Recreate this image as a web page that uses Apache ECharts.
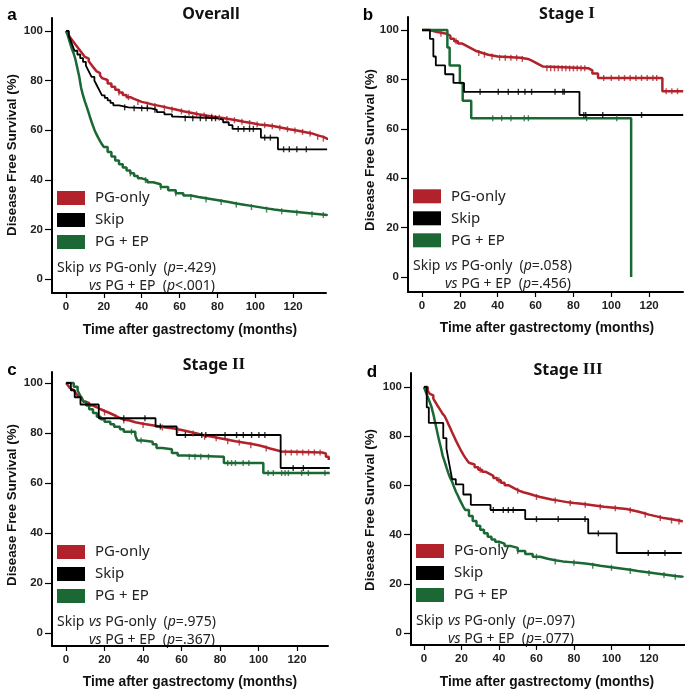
<!DOCTYPE html>
<html>
<head>
<meta charset="utf-8">
<script src="https://cdn.jsdelivr.net/npm/echarts@6/dist/echarts.min.js"></script>
<style>
html,body{margin:0;padding:0;background:#fff;}
#chart{width:685px;height:693px;}
</style>
</head>
<body>
<div id="chart"></div>
<script>
// ---------- DATA ----------
const xTicks = [0, 20, 40, 60, 80, 100, 120];
const yTicks = [0, 20, 40, 60, 80, 100];
const groupNames = ['PG-only', 'Skip', 'PG + EP'];

// Panel a: Overall  ([months, survival %], step points)
const aPG = [[0,100],[1,99],[2,97.5],[3,96.5],[4,95.5],[5,94.5],[6,93.5],[7,92.5],[8,91.5],[9,90.5],[10,89.5],[11,88.8],[12,87.8],[13,86.8],[14,85.8],[15,84.8],[16,83.8],[17,83],[18,82],[19,81],[20,80.2],[22,78.8],[24,77.5],[26,76.3],[28,75.2],[30,74.2],[32,73.3],[34,72.6],[36,72],[38,71.4],[40,70.9],[43,70.3],[46,69.7],[50,69],[54,68.3],[58,67.6],[62,67],[66,66.4],[70,65.9],[74,65.4],[78,65],[82,64.5],[86,64],[90,63.4],[94,62.9],[98,62.3],[102,62],[106,61.6],[110,61],[114,60.4],[118,59.9],[122,59.3],[126,58.7],[130,57.9],[133,57.3],[136,56.6],[138,56]];
const aSkip = [[0,100],[1.5,98],[2.5,96],[3.5,94],[4.5,92],[6,90.5],[7.5,89],[9,87.5],[10.5,86],[11.5,84.5],[12.5,83],[13.5,81.5],[15,80],[16,78.5],[17,77],[18,75.5],[19,74],[20.5,73],[22,72],[23.5,71],[25,70],[28,69.2],[33,68.8],[45,68.2],[48,67.3],[52,66.4],[56,65.5],[58,64.8],[80,64.3],[83,63.2],[86,62],[88,60.5],[103,57],[112,52.3],[138,52.3]];
const aEP = [[0,100],[1,98],[2,95.5],[3,93],[4,91],[5,88.5],[6,85],[7,81.5],[8,77],[9,74],[10,71.5],[11,69.3],[12,67],[13,64.5],[14,62.3],[15,60.2],[16,58.5],[17,57],[18,55.6],[19,54.3],[20,53.2],[22,51.2],[24,49.4],[26,47.8],[28,46.3],[30,45],[32,43.8],[34,42.6],[36,41.5],[38,40.6],[40,39.9],[43,39],[46,38.2],[50,37.1],[54,35.8],[58,34.6],[62,33.7],[66,33.1],[70,32.6],[74,32.1],[78,31.6],[82,31.1],[86,30.5],[90,30],[94,29.5],[98,29],[102,28.5],[106,28],[110,27.6],[114,27.3],[118,27],[122,26.7],[126,26.4],[130,26.1],[134,25.8],[138,25.5]];
const aPGcens = [28,33,38,43,47,52,56,61,65,69,73,77,81,85,89,93,97,101,105,109,113,117,121,125,129,133,136];
const aSkipCens = [31,36,40,43,47,63,67,71,74,77,79,91,94,97,99,105,108,115,118,122,127];
const aEPcens = [34,42,50,58,66,74,82,90,98,106,114,122,130,136];

// Panel b: Stage I
const bPG = [[0,100],[4,99.2],[8,98.5],[13,97.7],[15,96.5],[17,95.5],[19,94.6],[21,93.8],[23,93],[25,92.2],[27,91.4],[29,90.7],[32,90],[35,89.3],[40,88.8],[52,88.3],[56,87.6],[58,86.8],[60,86],[62,85.2],[64,84.5],[88,83.7],[90,82.4],[93,80.6],[127,75.2],[138,75.2]];
const bSkip = [[0,100],[4.2,96.4],[6,89.3],[7.3,85.7],[12.2,82.1],[16.6,78.6],[22.2,75],[83.2,65.6],[138,65.6]];
const bEP = [[0,100],[13.4,92.9],[14.6,85.7],[20,78.6],[21.5,71.4],[26,64.3],[110.5,0]];
const bPGcens = [10,18,30,33,37,41,44,47,50,53,66,68,70,72,74,76,78,80,82,84,86,96,100,104,107,110,113,116,119,122,124,129,132,135];
const bSkipCens = [30.7,40.3,45.6,50.9,54.4,57.9,70.3,74.4,75.2,85.5,86.5,95.5,116];
const bEPcens = [37.4,42.1,47,54,56.2,87,102.9];

// Panel c: Stage II
const cPG = [[0,100],[1,99],[2,98],[3,97.2],[4,96.6],[5,96],[6,95],[7,94.3],[8,93.5],[9,92.7],[10,92],[12,91],[14,90.3],[16,89.5],[18,88.8],[20,88.2],[22,87.5],[24,86.8],[26,86],[28,85.4],[30,85],[33,84.3],[36,83.7],[40,83.2],[44,82.7],[48,82.2],[52,81.8],[56,81.2],[60,80.5],[64,79.8],[68,79],[72,78.5],[76,77.9],[80,77.3],[84,76.7],[88,76.2],[92,75.7],[96,75.1],[100,74.5],[103,73.8],[106,73.2],[109,72.6],[112,72.2],[133,71.8],[135,70.5],[136.5,69.2]];
const cSkip = [[0,100],[2.5,97.1],[4.5,94.3],[7.5,91.4],[17,85.9],[46.5,82.6],[57.5,79.2],[111.5,66],[137,66]];
const cEP = [[0,100],[4,98.5],[6,97],[7,95.5],[8,94],[9,92.5],[10.5,91],[12,89.5],[14,88],[16,86.5],[18,85.5],[20,84.5],[23,83.5],[25,82.5],[28,81.5],[30,80.5],[36,79],[37,77],[40,76.5],[45,75.5],[47,74],[50,73.5],[55,72],[58,71],[62,70.5],[82,68],[102.5,64],[137,64]];
const cPGcens = [20,30,40,50,58,66,72,78,84,90,96,104,114,117,120,123,126,129,132];
const cSkipCens = [30,41,49,62,70.5,72.6,82.6,88.6,92.1,96.4,100.2,103.3,118,123.3];
const cEPcens = [34,39,64,67,70,74,84,86,88,92,95,105,107.7,112,113.8,115.5,122.4,125.9,134.5];

// Panel d: Stage III
const dPG = [[0,100],[2,98.5],[3,97.3],[4,96.6],[5,95.3],[6,94],[7,92.7],[8,91.5],[9,90.3],[10,89.1],[11,88.2],[12,86.7],[13,85],[14,83.3],[15,81.6],[16,80],[17,78.3],[18,76.8],[19,75.3],[20,73.8],[21,72.5],[22,71.3],[23,70.2],[24,69.2],[25,68.5],[27,67.4],[29,66.4],[31,65.5],[33,64.7],[35,63.9],[37,63],[39,62.1],[41,61.1],[43,60.1],[45,59.3],[47,58.5],[49,57.8],[51,57.2],[53,56.6],[56,55.9],[59,55.3],[62,54.8],[65,54.3],[68,53.9],[71,53.5],[74,53.1],[77,52.8],[80,52.5],[84,52.1],[88,51.7],[92,51.3],[96,51],[100,50.7],[104,50.4],[108,49.9],[111,49.4],[114,48.8],[117,48.1],[120,47.4],[124,46.7],[128,46.2],[132,45.7],[136,45.3],[138,45.1]];
const dSkip = [[0,100],[1.5,91.7],[2.6,85.4],[10.3,79.2],[12,75],[13,70.8],[14,66.7],[15,62.5],[17,60.4],[21,56.3],[25,52.1],[35.5,50],[54,46.3],[87.6,40.5],[102.8,32.5],[137.5,32.5]];
const dEP = [[0,100],[1,98],[2,96],[3,94],[4,92],[5,89],[6,85.5],[7,82],[8,78.5],[9,75.5],[10,72],[11,69.8],[12,67.3],[13,65],[14,63],[15,61.5],[16,59.5],[17,57.5],[18,56],[19,54.3],[20,52.8],[21,51.3],[22,50],[24,47.6],[26,45.5],[28,43.6],[30,42],[32,40.5],[34,39.1],[36,38],[38,37.1],[40,36.3],[43,35.4],[46,34.6],[50,33.3],[54,32.1],[58,31],[62,30.2],[66,29.6],[70,29.1],[74,28.8],[78,28.5],[82,28.2],[86,27.8],[90,27.3],[94,26.9],[98,26.5],[102,26.1],[106,25.7],[110,25.2],[114,24.8],[118,24.4],[122,24],[126,23.6],[130,23.2],[134,22.9],[138,22.6]];
const dPGcens = [30,40,50,60,70,78,86,94,102,110,118,126,132,136];
const dSkipCens = [37,42.3,45,47.6,60,71.6,85.9,93,119.6,128.5];
const dEPcens = [40,50,60,70,80,90,100,110,120,128,134];

const pOnly = ['=.429', '=.058', '=.975', '=.097'];
const pEP = ['<.001', '=.456', '=.367', '=.077'];
const titleWords = ['Overall', 'Stage', 'Stage', 'Stage'];
const titleNumerals = ['', 'I', 'II', 'III'];
const panelLetters = ['a', 'b', 'c', 'd'];

// ---------- LAYOUT ----------
const COLORS = ['#b2222a', '#000000', '#1b6834'];
const SANS = '"Noto Sans", "Noto Sans CJK KR", sans-serif';
const ARIAL = '"Liberation Sans", Arial, sans-serif';
const SERIF = '"Liberation Serif", "DejaVu Serif", serif';

const panels = [
  {grid:{left:52,top:18,width:274,height:275}, x:[-7.4,137.4], y:[-5.6,105.2],
   series:[aPG,aSkip,aEP], cens:[aPGcens,aSkipCens,aEPcens],
   letter:[12,15], title:[211,14], ylab:[12,155], xlab:[190,330], leg:191},
  {grid:{left:408,top:17,width:275,height:275}, x:[-7.4,137.9], y:[-6.1,105.3],
   series:[bPG,bSkip,bEP], cens:[bPGcens,bSkipCens,bEPcens],
   letter:[368,15], title:[567,14], ylab:[370,150], xlab:[547,328], leg:189.3},
  {grid:{left:52,top:372,width:276,height:274}, x:[-7.3,136.1], y:[-5.2,104.4],
   series:[cPG,cSkip,cEP], cens:[cPGcens,cSkipCens,cEPcens],
   letter:[12,370], title:[214,365], ylab:[12,505], xlab:[190,682], leg:545},
  {grid:{left:411,top:373,width:274,height:272}, x:[-6.9,139.2], y:[-4.9,105.7],
   series:[dPG,dSkip,dEP], cens:[dPGcens,dSkipCens,dEPcens],
   letter:[372,372], title:[568,370], ylab:[370,510], xlab:[547,682], leg:544}
];

function kmAt(curve, t) {
  let v = curve[0][1];
  for (const p of curve) { if (p[0] <= t) v = p[1]; else break; }
  return v;
}

const grids = [], xAxes = [], yAxes = [], series = [], graphics = [];
const axisLineStyle = {onZero:false, lineStyle:{color:'#000', width:2}};
const labelStyle = {color:'#222', fontFamily:ARIAL, fontWeight:'bold', fontSize:11.5};

panels.forEach((P, i) => {
  grids.push(Object.assign({containLabel:false}, P.grid));
  xAxes.push({
    type:'value', gridIndex:i, min:P.x[0], max:P.x[1],
    axisLine: axisLineStyle, splitLine:{show:false},
    axisTick:{show:true, length:5, lineStyle:{color:'#000', width:1.2}, customValues:xTicks},
    axisLabel:Object.assign({}, labelStyle, {margin:8, customValues:xTicks})
  });
  yAxes.push({
    type:'value', gridIndex:i, min:P.y[0], max:P.y[1],
    axisLine: axisLineStyle, splitLine:{show:false},
    axisTick:{show:true, length:7, lineStyle:{color:'#000', width:1.2}, customValues:yTicks},
    axisLabel:Object.assign({}, labelStyle, {margin:9, customValues:yTicks})
  });
  const order = [0, 2, 1];
  order.forEach(g => {
    series.push({
      type:'line', xAxisIndex:i, yAxisIndex:i, step:'end', showSymbol:false, symbol:'none',
      data:P.series[g], lineStyle:{color:COLORS[g], width:g===1?1.8:2.5}, z:3, silent:true
    });
    series.push({
      type:'scatter', xAxisIndex:i, yAxisIndex:i, symbol:'rect', symbolSize:[1.4,6],
      data:P.cens[g].map(t => [t, kmAt(P.series[g], t)]),
      itemStyle:{color:COLORS[g]}, z:4, silent:true
    });
  });

  // panel letter and title
  graphics.push({type:'text', x:P.letter[0], y:P.letter[1], style:{text:panelLetters[i], font:'bold 17px ' + ARIAL, fill:'#000', align:'center', verticalAlign:'middle'}});
  const titleText = titleNumerals[i] ? '{w|' + titleWords[i] + ' }{r|' + titleNumerals[i] + '}' : '{w|' + titleWords[i] + '}';
  graphics.push({type:'text', x:P.title[0], y:P.title[1], style:{
    text:titleText, align:'center', verticalAlign:'middle', fill:'#111',
    rich:{
      w:{fontFamily:SANS, fontSize:16, fontWeight:'bold', fill:'#111', color:'#111'},
      r:{fontFamily:SERIF, fontSize:17, fontWeight:'bold', fill:'#111', color:'#111'}
    }}});
  // axis titles
  graphics.push({type:'text', x:P.ylab[0], y:P.ylab[1], rotation:Math.PI/2, style:{text:'Disease Free Survival (%)', font:'bold 13.3px ' + ARIAL, fill:'#111', align:'center', verticalAlign:'middle'}});
  graphics.push({type:'text', x:P.xlab[0], y:P.xlab[1], style:{text:'Time after gastrectomy (months)', font:'bold 13.8px ' + ARIAL, fill:'#111', align:'center', verticalAlign:'middle'}});
  // legend
  const lx = P.grid.left + 5;
  groupNames.forEach((name, g) => {
    const ry = P.leg + g * 22;
    graphics.push({type:'rect', shape:{x:lx, y:ry, width:28, height:14}, style:{fill:COLORS[g]}});
    graphics.push({type:'text', x:lx + 38, y:ry + 7, style:{text:name, font:'15px ' + SANS, fill:'#222', align:'left', verticalAlign:'middle'}});
  });
  // p-values
  const rich = {
    n:{fontFamily:SANS, fontSize:14, fill:'#222', color:'#222'},
    i:{fontFamily:SANS, fontSize:14, fontStyle:'italic', fill:'#222', color:'#222'}
  };
  graphics.push({type:'text', x:lx, y:P.leg + 77, style:{text:'Skip', font:'14px ' + SANS, fill:'#222', align:'left', verticalAlign:'middle'}});
  graphics.push({type:'text', x:P.grid.left + 37, y:P.leg + 77, style:{text:'{i|vs}{n| PG-only  (}{i|p}{n|' + pOnly[i] + ')}', rich:rich, font:'14px ' + SANS, fill:'#222', align:'left', verticalAlign:'middle'}});
  graphics.push({type:'text', x:P.grid.left + 37, y:P.leg + 95, style:{text:'{i|vs}{n| PG + EP  (}{i|p}{n|' + pEP[i] + ')}', rich:rich, font:'14px ' + SANS, fill:'#222', align:'left', verticalAlign:'middle'}});
});

const chart = echarts.init(document.getElementById('chart'), null, {renderer:'canvas'});
chart.setOption({
  animation:false,
  backgroundColor:'#fff',
  grid:grids, xAxis:xAxes, yAxis:yAxes, series:series,
  graphic:{elements:graphics}
});
</script>
</body>
</html>
